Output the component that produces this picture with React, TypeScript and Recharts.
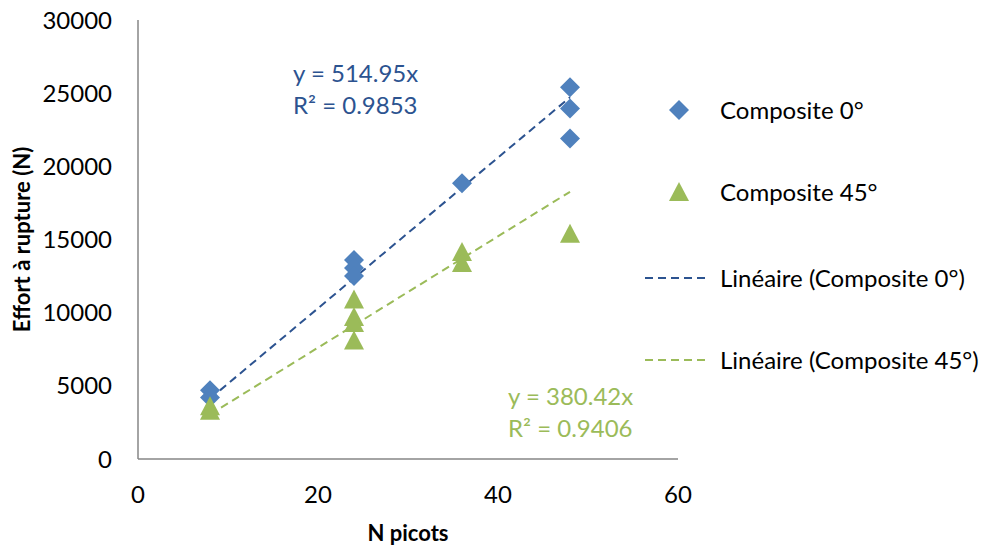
import React from 'react';
import { ScatterChart, Scatter, XAxis, YAxis, Label } from 'recharts';

// readings
const picots0 = [8, 8, 24, 24, 24, 36, 48, 48, 48];
const effort0 = [4700, 4200, 13600, 13050, 12500, 18850, 25400, 23950, 21900];
const picots45 = [8, 8, 24, 24, 24, 24, 36, 36, 48];
const effort45 = [3600, 3300, 10900, 9700, 9300, 8100, 14150, 13400, 15400];

// trend line end points (y = 514.95x, y = 380.42x)
const trendX = [8, 48];
const trend0Y = [4120, 24718];
const trend45Y = [3043, 18260];

const xTicks = [0, 20, 40, 60];
const yTicks = [0, 5000, 10000, 15000, 20000, 25000, 30000];

const legendLabels = ['Composite 0°', 'Composite 45°', 'Linéaire (Composite 0°)', 'Linéaire (Composite 45°)'];

const BLUE = '#4F81BD';
const BLUE_DARK = '#2C5390';
const GREEN = '#9BBB59';
const AXIS = '#868686';
const FONT = 'Lato, "Open Sans", sans-serif';
const FS = 24;
// svg starts at the very top of the page (wrapper pulled up by the body margin)
const TOP = 8;

const comp0 = picots0.map((x, i) => ({ x, y: effort0[i] }));
const comp45 = picots45.map((x, i) => ({ x, y: effort45[i] }));
const trend0 = trendX.map((x, i) => ({ x, y: trend0Y[i] }));
const trend45 = trendX.map((x, i) => ({ x, y: trend45Y[i] }));

const Diamond = (props: any) => {
  const { cx, cy } = props;
  const r = 10;
  return <path d={`M${cx},${cy - r}L${cx + r},${cy}L${cx},${cy + r}L${cx - r},${cy}Z`} fill={BLUE} />;
};

const Triangle = (props: any) => {
  const { cx, cy } = props;
  return <path d={`M${cx},${cy - 10}L${cx + 10},${cy + 9}L${cx - 10},${cy + 9}Z`} fill={GREEN} />;
};

const NoDot = () => <g />;

// legend drawn by hand, in svg coords
const LegendBox = () => {
  const ys = [110, 192, 278, 360];
  const mx = 671;
  return (
    <g>
      {legendLabels.map((label, i) => {
        const y = ys[i];
        let mark;
        if (i === 0) mark = <Diamond cx={mx} cy={y} />;
        else if (i === 1) mark = <Triangle cx={mx} cy={y} />;
        else
          mark = (
            <line x1={637} x2={698} y1={y} y2={y} stroke={i === 2 ? BLUE_DARK : GREEN}
              strokeWidth={2} strokeDasharray="8 5" />
          );
        return (
          <g key={label}>
            {mark}
            <text x={712} y={y} dy="0.36em" fontFamily={FONT} fontSize={FS} fill="#000">{label}</text>
          </g>
        );
      })}
    </g>
  );
};

export default function App() {
  return (
    <div style={{ marginTop: -TOP, width: 980, height: 548 }}>
      <ScatterChart width={980} height={548} margin={{ top: 12 + TOP, right: 310, bottom: 0, left: 0 }}
        style={{ overflow: 'visible' }}>
        <XAxis type="number" dataKey="x" domain={[0, 60]} ticks={xTicks} tickLine={false} tickSize={0}
          tickMargin={27} height={89} axisLine={{ stroke: AXIS, strokeWidth: 1.5 }}
          tick={{ fontFamily: FONT, fontSize: FS, fill: '#000' }}>
          <Label value="N picots" position="center" dy={30} style={{ fontFamily: FONT, fontSize: 22, fontWeight: 700, fill: '#000' }} />
        </XAxis>
        <YAxis type="number" dataKey="y" domain={[0, 30000]} ticks={yTicks} tickLine={false} tickSize={0}
          tickMargin={26} width={130} axisLine={{ stroke: AXIS, strokeWidth: 1.5 }}
          tick={{ fontFamily: FONT, fontSize: FS, fill: '#000' }}>
          <Label value="Effort à rupture (N)" position="center" angle={-90} dx={-51}
            style={{ fontFamily: FONT, fontSize: 22, fontWeight: 700, fill: '#000', textAnchor: 'middle' }} />
        </YAxis>
        <Scatter name="Linéaire (Composite 0°)" data={trend0} shape={NoDot} isAnimationActive={false}
          line={{ stroke: BLUE_DARK, strokeWidth: 2, strokeDasharray: '8 5' }} legendType="none" />
        <Scatter name="Linéaire (Composite 45°)" data={trend45} shape={NoDot} isAnimationActive={false}
          line={{ stroke: GREEN, strokeWidth: 2, strokeDasharray: '8 5' }} legendType="none" />
        <Scatter name="Composite 0°" data={comp0} shape={Diamond} isAnimationActive={false} />
        <Scatter name="Composite 45°" data={comp45} shape={Triangle} isAnimationActive={false} />
        <text x={285} y={73} dy="0.36em" fontFamily={FONT} fontSize={FS} fill={BLUE_DARK}>y = 514.95x</text>
        <text x={285} y={105} dy="0.36em" fontFamily={FONT} fontSize={FS} fill={BLUE_DARK}>R² = 0.9853</text>
        <text x={500} y={396} dy="0.36em" fontFamily={FONT} fontSize={FS} fill={GREEN}>y = 380.42x</text>
        <text x={500} y={428} dy="0.36em" fontFamily={FONT} fontSize={FS} fill={GREEN}>R² = 0.9406</text>
        <LegendBox />
      </ScatterChart>
    </div>
  );
}
